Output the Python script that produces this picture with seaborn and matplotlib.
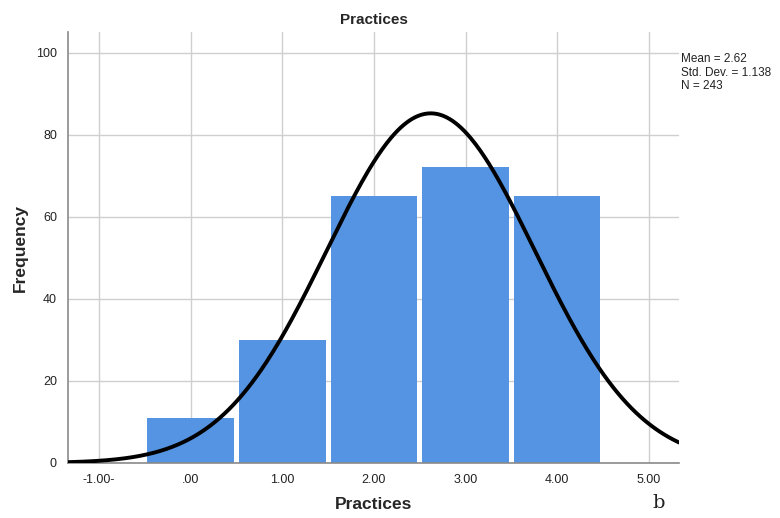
import numpy as np
import pandas as pd
import matplotlib
matplotlib.use("Agg")
import matplotlib.pyplot as plt
import seaborn as sns

# Frequency table of the Practices score
scores = [0, 1, 2, 3, 4]
counts = [11, 30, 65, 72, 65]
x_ticks = [-1, 0, 1, 2, 3, 4, 5]
x_tick_labels = ["-1.00-", ".00", "1.00", "2.00", "3.00", "4.00", "5.00"]
y_ticks = [0, 20, 40, 60, 80, 100]

# Summary statistics shown beside the plot
mean = 2.62
std_dev = 1.138
n_obs = 243

sns.set_style("white")
plt.rcParams["font.family"] = ["Liberation Sans", "DejaVu Sans"]

fig = plt.figure(figsize=(7.8, 5.18), dpi=100)
ax = fig.add_axes([0.0872, 0.1062, 0.7833, 0.832])

df = pd.DataFrame({"Practices": scores, "count": counts})
sns.histplot(data=df, x="Practices", weights="count", discrete=True,
             shrink=0.945, color="#5594E2", alpha=1.0, edgecolor="none",
             ax=ax, zorder=2)

# Normal curve scaled to the frequency counts (bin width 1)
xlim = (-1.34, 5.33)
xs = np.linspace(xlim[0], xlim[1], 400)
ys = n_obs / (std_dev * np.sqrt(2 * np.pi)) * np.exp(-0.5 * ((xs - mean) / std_dev) ** 2)
sns.lineplot(x=xs, y=ys, color="black", linewidth=2.8, ax=ax, zorder=3)

ax.set_xlim(*xlim)
ax.set_ylim(0, 105)
ax.set_xticks(x_ticks)
ax.set_xticklabels(x_tick_labels)
ax.set_yticks(y_ticks)
ax.tick_params(axis="both", length=0, labelsize=9, colors="#222222", pad=8)

ax.grid(True, color="#cfcfcf", linewidth=1.0, zorder=0)
ax.set_axisbelow(True)
for side in ["top", "right"]:
    ax.spines[side].set_visible(False)
for side in ["left", "bottom"]:
    ax.spines[side].set_color("#8a8a8a")
    ax.spines[side].set_linewidth(1.2)

ax.set_title("Practices", fontsize=11, fontweight="bold", pad=6)
ax.set_xlabel("Practices", fontsize=12.5, fontweight="bold", labelpad=8)
ax.set_ylabel("Frequency", fontsize=12.5, fontweight="bold", labelpad=6)

fig.text(0.873, 0.897, f"Mean = {mean:.2f}\nStd. Dev. = {std_dev:.3f}\nN = {n_obs}",
         fontsize=8.5, va="top", ha="left", linespacing=1.15, color="#222222")
fig.text(0.836, 0.012, "b", fontsize=14, family=["DejaVu Serif"], color="#222222",
         va="bottom")

fig.savefig("out.png", dpi=100)
